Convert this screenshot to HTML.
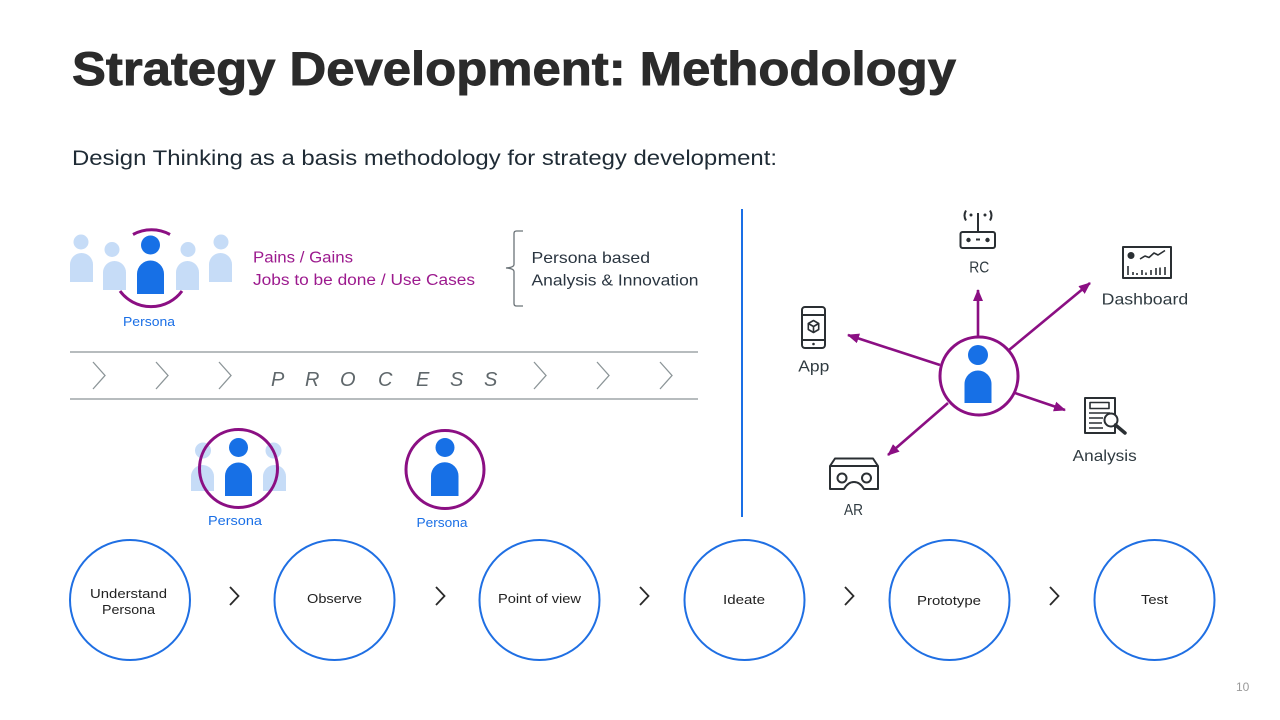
<!DOCTYPE html>
<html><head><meta charset="utf-8"><style>
html,body{margin:0;padding:0;background:#fff;}
svg{display:block;}
text{font-family:"Liberation Sans",Arial,sans-serif;}
</style></head><body>
<svg width="1280" height="720" viewBox="0 0 1280 720" xmlns="http://www.w3.org/2000/svg">
<defs>
<marker id="ah" markerUnits="userSpaceOnUse" markerWidth="12" markerHeight="10" refX="11" refY="5" orient="auto">
<path d="M0,0 L12,5 L0,10 Z" fill="#8b0f83"/>
</marker>
</defs>
<rect width="1280" height="720" fill="#fff"/>

<!-- Title -->
<text x="72" y="85" font-size="47" font-weight="bold" fill="#2b2b2b" stroke="#2b2b2b" stroke-width="0.9" textLength="884" lengthAdjust="spacingAndGlyphs">Strategy Development: Methodology</text>
<text x="72" y="165" font-size="21" fill="#1f2b35" textLength="705" lengthAdjust="spacingAndGlyphs">Design Thinking as a basis methodology for strategy development:</text>

<!-- Top-left persona group -->
<g fill="#c6dcf7">
<circle cx="81" cy="242" r="7.5"/>
<path d="M70,282 V264.5 A11.5,11.5 0 0 1 93,264.5 V282 Z"/>
<circle cx="112" cy="249.5" r="7.5"/>
<path d="M103,290 V272.5 A11.5,11.5 0 0 1 126,272.5 V290 Z"/>
<circle cx="188" cy="249.5" r="7.5"/>
<path d="M176,290 V272.5 A11.5,11.5 0 0 1 199,272.5 V290 Z"/>
<circle cx="221" cy="242" r="7.5"/>
<path d="M209,282 V264.5 A11.5,11.5 0 0 1 232,264.5 V282 Z"/>
</g>
<g fill="none" stroke="#8b0f83" stroke-width="3">
<path d="M133,234.5 A38.5,38.5 0 0 1 170,234.5"/>
<path d="M120,291 A38.5,38.5 0 0 0 182,291"/>
</g>
<g fill="#1770e6">
<circle cx="150.5" cy="245" r="9.5"/>
<path d="M137,294 V274 A13.5,13.5 0 0 1 164,274 V294 Z"/>
</g>
<text x="149" y="326" font-size="13" fill="#1a6fe6" text-anchor="middle" textLength="52" lengthAdjust="spacingAndGlyphs">Persona</text>

<text x="253" y="262.5" font-size="15.5" fill="#9c1a8e" textLength="100" lengthAdjust="spacingAndGlyphs">Pains / Gains</text>
<text x="253" y="285" font-size="15.5" fill="#9c1a8e" textLength="222" lengthAdjust="spacingAndGlyphs">Jobs to be done / Use Cases</text>

<!-- Bracket -->
<path d="M523,231 H516.5 Q514,231 514,233.5 V264.5 Q514,267.5 506,268 Q514,268.5 514,271.5 V303.5 Q514,306 516.5,306 H523" fill="none" stroke="#6b7378" stroke-width="1.3"/>
<text x="531.5" y="263" font-size="16" fill="#2a3540" textLength="118.5" lengthAdjust="spacingAndGlyphs">Persona based</text>
<text x="531.5" y="285.7" font-size="16" fill="#2a3540" textLength="167" lengthAdjust="spacingAndGlyphs">Analysis &amp; Innovation</text>

<!-- Process band -->
<g stroke="#8c9598" stroke-width="1.3" fill="none">
<path d="M70,352 H698"/>
<path d="M70,399 H698"/>
<path d="M93,362 L105,375.5 L93,389"/>
<path d="M156,362 L168,375.5 L156,389"/>
<path d="M219,362 L231,375.5 L219,389"/>
<path d="M534,362 L546,375.5 L534,389"/>
<path d="M597,362 L609,375.5 L597,389"/>
<path d="M660,362 L672,375.5 L660,389"/>
</g>
<g font-size="20" font-style="italic" fill="#5f676b">
<text x="271" y="386">P</text>
<text x="305" y="386">R</text>
<text x="340" y="386">O</text>
<text x="378" y="386">C</text>
<text x="416" y="386">E</text>
<text x="450" y="386">S</text>
<text x="484" y="386">S</text>
</g>

<!-- Middle persona group 1 -->
<g fill="#c6dcf7">
<circle cx="203" cy="450.5" r="8"/>
<path d="M191,491 V476.5 A11.5,11.5 0 0 1 214,476.5 V491 Z"/>
<circle cx="273.5" cy="450.5" r="8"/>
<path d="M263,491 V476.5 A11.5,11.5 0 0 1 286,476.5 V491 Z"/>
</g>
<circle cx="238.5" cy="468.5" r="39" fill="none" stroke="#8b0f83" stroke-width="3"/>
<g fill="#1770e6">
<circle cx="238.5" cy="447.5" r="9.5"/>
<path d="M225,496 V476 A13.5,13.5 0 0 1 252,476 V496 Z"/>
</g>
<text x="235" y="525" font-size="13" fill="#1a6fe6" text-anchor="middle" textLength="54" lengthAdjust="spacingAndGlyphs">Persona</text>

<!-- Middle persona 2 -->
<circle cx="445" cy="469.5" r="39" fill="none" stroke="#8b0f83" stroke-width="3"/>
<g fill="#1770e6">
<circle cx="445" cy="447.5" r="9.5"/>
<path d="M431,496 V476 A13.75,13.75 0 0 1 458.5,476 V496 Z"/>
</g>
<text x="442" y="527" font-size="13" fill="#1a6fe6" text-anchor="middle" textLength="51" lengthAdjust="spacingAndGlyphs">Persona</text>

<!-- Vertical divider -->
<path d="M742,209 V517" stroke="#1a6fe6" stroke-width="2"/>

<!-- Hub arrows -->
<g stroke="#8b0f83" stroke-width="2.6" fill="none" marker-end="url(#ah)">
<path d="M978,337 L978,290"/>
<path d="M1009,350 L1090,283"/>
<path d="M940,365 L848,335"/>
<path d="M1015,393 L1065,410"/>
<path d="M948,403 L888,455"/>
</g>
<circle cx="979" cy="376" r="39" fill="#fff" stroke="#8b0f83" stroke-width="3"/>
<g fill="#1770e6">
<circle cx="978" cy="355" r="10"/>
<path d="M964.5,403 V384 A13.5,13.5 0 0 1 991.5,384 V403 Z"/>
</g>

<!-- Icons -->
<g stroke="#2a2f33" stroke-width="2" fill="none" stroke-linejoin="round">
<!-- RC -->
<path d="M966,210.5 Q963,215.5 966,220.5"/>
<path d="M990,210.5 Q993,215.5 990,220.5"/>
<path d="M978,213 V232"/>
<rect x="960.5" y="232" width="34.5" height="16" rx="2"/>
<path d="M976,239.5 H980"/>
<!-- Dashboard -->
<rect x="1123" y="247" width="48" height="31"/>
<polyline points="1140,259 1145,256 1149,257.5 1154,253 1158,255 1165,250.5" stroke-width="1.6"/>
<g stroke-width="1.6">
<path d="M1128,275 V266"/><path d="M1133,275 V272"/><path d="M1137,275 V273"/><path d="M1142,275 V270"/><path d="M1146,275 V272.5"/><path d="M1151,275 V270"/><path d="M1156,275 V268"/><path d="M1160,275 V267.5"/><path d="M1165,275 V267"/>
</g>
<!-- App -->
<rect x="802" y="307" width="23" height="41" rx="3"/>
<path d="M802,315 H825 M802,340 H825"/>
<g stroke-width="1.6">
<path d="M813.5,320.5 L818.7,323.5 L818.7,329.5 L813.5,332.5 L808.3,329.5 L808.3,323.5 Z"/>
<path d="M808.3,323.5 L813.5,326.5 L818.7,323.5 M813.5,326.5 V332.5"/>
</g>
<!-- Analysis -->
<rect x="1085" y="398" width="30" height="35" fill="#fff"/>
<rect x="1090" y="402.5" width="19" height="6" stroke-width="1.6"/>
<path d="M1089,413 H1110 M1089,418 H1103 M1089,423 H1102 M1089,428 H1103" stroke-width="1.6"/>
<circle cx="1111" cy="420" r="6.5" fill="#fff"/>
<path d="M1115.5,425 L1125,433" stroke-width="3.5" stroke-linecap="round"/>
<!-- AR -->
<path d="M835,458.5 H873 L878,466 V489 H864 Q860,482 854,482 Q848,482 844,489 H830 V466 Z"/>
<path d="M830,466 H878"/>
<circle cx="842" cy="478" r="4.5"/>
<circle cx="866.5" cy="478" r="4.5"/>
</g>
<g fill="#2a2f33">
<circle cx="971" cy="215" r="1.5"/>
<circle cx="985" cy="215" r="1.5"/>
<circle cx="968.5" cy="240" r="2.2"/>
<circle cx="987.5" cy="240" r="2.2"/>
<circle cx="1131" cy="255.5" r="3.5"/>
<circle cx="813.5" cy="344" r="1.3"/>
</g>

<!-- Hub labels -->
<g font-size="16" fill="#2f3a40">
<text x="969.3" y="272.7" textLength="20" lengthAdjust="spacingAndGlyphs">RC</text>
<text x="1101.7" y="304.3" textLength="86.5" lengthAdjust="spacingAndGlyphs">Dashboard</text>
<text x="798.3" y="371.7" textLength="31" lengthAdjust="spacingAndGlyphs">App</text>
<text x="1072.7" y="461" textLength="64" lengthAdjust="spacingAndGlyphs">Analysis</text>
<text x="844" y="515" textLength="19" lengthAdjust="spacingAndGlyphs">AR</text>
</g>

<!-- Bottom circles -->
<g fill="none" stroke="#1f6fe3" stroke-width="2">
<circle cx="130" cy="600" r="60"/>
<circle cx="334.5" cy="600" r="60"/>
<circle cx="539.5" cy="600" r="60"/>
<circle cx="744.5" cy="600" r="60"/>
<circle cx="949.5" cy="600" r="60"/>
<circle cx="1154.5" cy="600" r="60"/>
</g>
<g fill="none" stroke="#2a2a2a" stroke-width="1.8">
<path d="M230,587 L238.5,596 L230,605"/>
<path d="M436,587 L444.5,596 L436,605"/>
<path d="M640,587 L648.5,596 L640,605"/>
<path d="M845,587 L853.5,596 L845,605"/>
<path d="M1050,587 L1058.5,596 L1050,605"/>
</g>
<g font-size="13" fill="#222" text-anchor="middle">
<text x="128.5" y="598" textLength="77" lengthAdjust="spacingAndGlyphs">Understand</text>
<text x="128.5" y="614" textLength="53" lengthAdjust="spacingAndGlyphs">Persona</text>
<text x="334.5" y="603" textLength="55" lengthAdjust="spacingAndGlyphs">Observe</text>
<text x="539.5" y="603" textLength="83" lengthAdjust="spacingAndGlyphs">Point of view</text>
<text x="744" y="604" textLength="42" lengthAdjust="spacingAndGlyphs">Ideate</text>
<text x="949" y="605" textLength="64" lengthAdjust="spacingAndGlyphs">Prototype</text>
<text x="1154.5" y="604" textLength="27" lengthAdjust="spacingAndGlyphs">Test</text>
</g>

<text x="1236" y="691" font-size="12" fill="#9a9a9a">10</text>
</svg>
</body></html>
